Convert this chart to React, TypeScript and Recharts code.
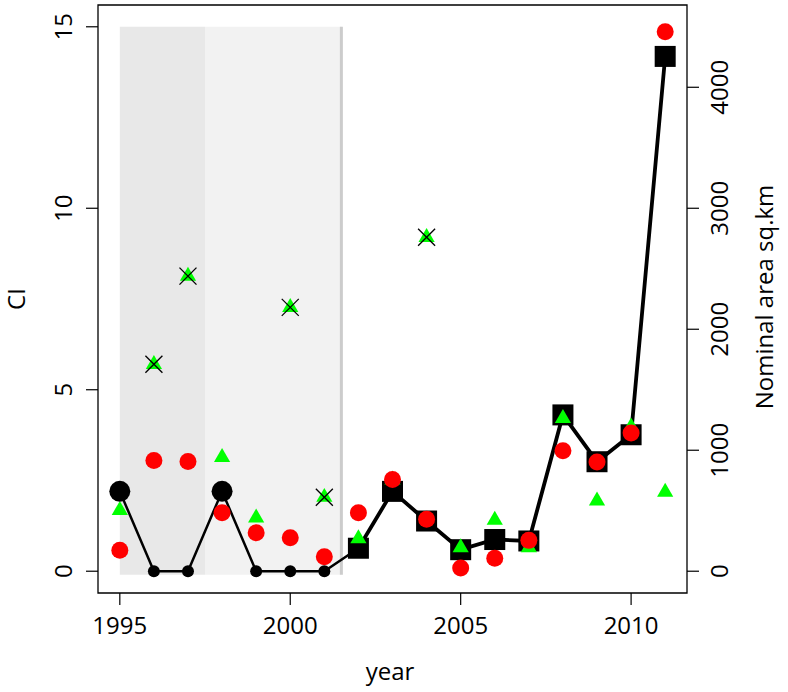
import React from 'react';
import {
  ComposedChart,
  Line,
  Scatter,
  XAxis,
  YAxis,
  ReferenceArea,
  ReferenceLine,
} from 'recharts';

const years = [1995, 1996, 1997, 1998, 1999, 2000, 2001, 2002, 2003, 2004, 2005, 2006, 2007, 2008, 2009, 2010, 2011];

// nominal area (sq.km), right axis - two periods
const areaEarly = [660, 0, 0, 660, 0, 0, 0, 190, null, null, null, null, null, null, null, null, null];
const areaLate = [null, null, null, null, null, null, null, 190, 660, 415, 178, 262, 250, 1292, 905, 1128, 4255];

// CI values, left axis
const ciRed = [0.58, 3.05, 3.02, 1.61, 1.06, 0.92, 0.4, 1.61, 2.53, 1.43, 0.09, 0.36, 0.85, 3.32, 3.01, 3.81, 14.86];
const ciGreen = [1.68, 5.7, 8.13, 3.14, 1.47, 7.27, 2.04, 0.9, 2.52, 9.2, 0.65, 1.41, 0.65, 4.21, 1.94, 3.98, 2.18];
const crossed = [null, 5.7, 8.13, null, null, 7.27, 2.04, null, null, 9.2, null, null, null, null, null, null, null];

const xTicks = [1995, 2000, 2005, 2010];
const ciTicks = [0, 5, 10, 15];
const areaTicks = [0, 1000, 2000, 3000, 4000];

const rows = years.map((year, i) => ({
  year,
  early: areaEarly[i],
  late: areaLate[i],
  red: ciRed[i],
  green: ciGreen[i],
  cross: crossed[i],
}));

const pick = (key: string) => rows.filter((r: any) => r[key] !== null && r[key] !== undefined);

const FONT = '"Open Sans", sans-serif';

const XTick = (props: any) => {
  const { x, y, payload } = props;
  return (
    <text x={x} y={y + 29} textAnchor="middle" fontFamily={FONT} fontSize={24} fill="#000">
      {payload.value}
    </text>
  );
};

const makeYTick = (shift: number) => (props: any) => {
  const { x, y, payload } = props;
  const bx = x + shift;
  return (
    <text x={bx} y={y} transform={`rotate(-90 ${bx} ${y})`} textAnchor="middle" fontFamily={FONT} fontSize={24} fill="#000">
      {payload.value}
    </text>
  );
};

const Square = (props: any) => {
  const { cx, cy } = props;
  return <rect x={cx - 10.5} y={cy - 10.5} width={21} height={21} fill="#000" />;
};

const Triangle = (props: any) => {
  const { cx, cy } = props;
  const r = 9.3;
  const w = 8.1;
  return <polygon points={`${cx},${cy - r} ${cx + w},${cy + r / 2} ${cx - w},${cy + r / 2}`} fill="#00ff00" />;
};

const BlackDot = (props: any) => {
  const { cx, cy, payload } = props;
  return <circle cx={cx} cy={cy} r={payload.early > 0 ? 10.5 : 6} fill="#000" />;
};

const RedDot = (props: any) => {
  const { cx, cy } = props;
  return <circle cx={cx} cy={cy} r={8.5} fill="#ff0000" />;
};

const Cross = (props: any) => {
  const { cx, cy } = props;
  const h = 8.5;
  return (
    <g stroke="#000" strokeWidth={1.3}>
      <line x1={cx - h} y1={cy - h} x2={cx + h} y2={cy + h} />
      <line x1={cx - h} y1={cy + h} x2={cx + h} y2={cy - h} />
    </g>
  );
};

const App = () => {
  return (
    <div style={{ position: 'absolute', left: 0, top: 0, background: '#fff' }}>
      <ComposedChart width={788} height={692} data={rows} margin={{ top: 5, right: 0, bottom: 0, left: 0 }}>
        <XAxis
          dataKey="year"
          type="number"
          domain={[1994.36, 2011.64]}
          ticks={xTicks}
          height={99}
          tickSize={12}
          tickMargin={0}
          axisLine={false}
          tickLine={{ stroke: '#000', strokeWidth: 1.2 }}
          tick={<XTick />}
          label={() => (
            <text x={390} y={680} textAnchor="middle" fontFamily={FONT} fontSize={24} fill="#000">
              year
            </text>
          )}
        />
        <YAxis
          yAxisId="ci"
          type="number"
          domain={[-0.6, 15.6]}
          ticks={ciTicks}
          width={98}
          tickSize={12}
          tickMargin={0}
          axisLine={false}
          tickLine={{ stroke: '#000', strokeWidth: 1.2 }}
          tick={makeYTick(-14)}
          label={() => (
            <text x={25} y={299} transform="rotate(-90 25 299)" textAnchor="middle" fontFamily={FONT} fontSize={24} fill="#000">
              CI
            </text>
          )}
        />
        <YAxis
          yAxisId="area"
          orientation="right"
          type="number"
          domain={[-180, 4680]}
          ticks={areaTicks}
          width={101}
          tickSize={12}
          tickMargin={0}
          axisLine={false}
          tickLine={{ stroke: '#000', strokeWidth: 1.2 }}
          tick={makeYTick(29)}
          label={() => (
            <text x={773} y={297} transform="rotate(-90 773 297)" textAnchor="middle" fontFamily={FONT} fontSize={24} fill="#000">
              Nominal area sq.km
            </text>
          )}
        />

        <ReferenceArea yAxisId="ci" x1={1995} x2={1997.5} y1={-0.1} y2={15} fill="#e8e8e8" fillOpacity={1} stroke="none" />
        <ReferenceArea yAxisId="ci" x1={1997.5} x2={2001.5} y1={-0.1} y2={15} fill="#f2f2f2" fillOpacity={1} stroke="none" />
        <ReferenceLine
          yAxisId="ci"
          segment={[{ x: 2001.5, y: -0.1 }, { x: 2001.5, y: 15 }]}
          stroke="#cccccc"
          strokeWidth={3}
        />
        <ReferenceArea
          yAxisId="ci"
          x1={1994.36}
          x2={2011.64}
          y1={-0.6}
          y2={15.6}
          fill="none"
          stroke="#000"
          strokeWidth={1.3}
        />

        <Scatter yAxisId="area" data={pick('late')} dataKey="late" shape={<Square />} isAnimationActive={false} />
        <Scatter yAxisId="ci" data={rows} dataKey="green" shape={<Triangle />} isAnimationActive={false} />
        <Line yAxisId="area" dataKey="late" stroke="#000" strokeWidth={3.8} dot={false} activeDot={false} isAnimationActive={false} />
        <Line yAxisId="area" dataKey="early" stroke="#000" strokeWidth={2.5} dot={false} activeDot={false} isAnimationActive={false} />
        <Scatter yAxisId="area" data={pick('early').filter((r) => r.year < 2002)} dataKey="early" shape={<BlackDot />} isAnimationActive={false} />
        <Scatter yAxisId="ci" data={rows} dataKey="red" shape={<RedDot />} isAnimationActive={false} />
        <Scatter yAxisId="ci" data={pick('cross')} dataKey="cross" shape={<Cross />} isAnimationActive={false} />
      </ComposedChart>
    </div>
  );
};

export default App;
